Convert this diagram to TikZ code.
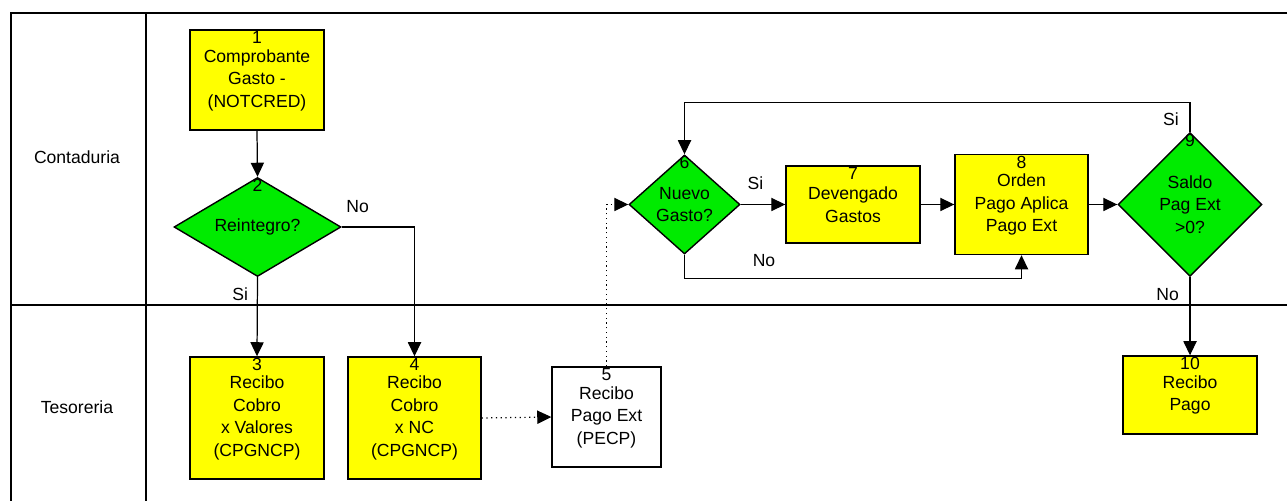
\documentclass[tikz,border=0pt]{standalone}
\usepackage{fontspec}
\setmainfont{Liberation Sans}
\usetikzlibrary{shapes.geometric,arrows.meta}

\definecolor{amarillo}{RGB}{255,255,0}
\definecolor{verde}{RGB}{0,235,0}

\tikzset{
  caja/.style={draw, line width=0.8pt, fill=amarillo, minimum width=2.68cm, align=center, inner sep=0pt},
  rombo/.style={diamond, draw, line width=0.8pt, fill=verde, inner sep=0pt},
  flecha/.style={-{Triangle[length=8pt,width=7.5pt]}, line width=0.7pt},
  num/.style={anchor=north, inner sep=1pt},
  txt/.style={align=center, inner sep=0pt},
  lbl/.style={inner sep=1pt}
}

\begin{document}
\begin{tikzpicture}[font=\fontsize{10}{12.8}\selectfont]
\useasboundingbox (0,0) rectangle (25.76,10.02);%画像の大きさ

%%枠と区分線
\draw [line width=0.6pt] (25.74,9.76) -- (0.22,9.76) -- (0.22,0);
\draw [line width=0.6pt] (2.92,9.76) -- (2.92,0);
\draw [line width=0.6pt] (0.22,3.92) -- (25.74,3.92);
\node (contaduria) at (1.54,6.88) {Contaduria};
\node (tesoreria) at (1.54,1.88) {Tesoreria};

%%箱と菱形
\node [caja, minimum height=2.0cm, label={[num]north:1}] (b1) at (5.14,8.42) {Comprobante\\Gasto -\\(NOTCRED)};
\node [rombo, minimum width=3.34cm, minimum height=1.98cm, label={[num]north:2}, label={[txt]center:Reintegro?}] (d2) at (5.15,5.48) {};
\node [caja, minimum height=2.44cm, label={[num]north:3}] (b3) at (5.14,1.66) {Recibo\\Cobro\\x Valores\\(CPGNCP)};
\node [caja, minimum width=2.66cm, minimum height=2.44cm, label={[num]north:4}] (b4) at (8.29,1.66) {Recibo\\Cobro\\x NC\\(CPGNCP)};
\node [caja, fill=white, minimum width=2.18cm, minimum height=2.0cm, label={[num]north:5}] (b5) at (12.13,1.68) {Recibo\\Pago Ext\\(PECP)};
\node [rombo, minimum width=2.22cm, minimum height=1.98cm, label={[num]north:6}, label={[txt]center:Nuevo\\Gasto?}] (d6) at (13.69,5.93) {};
\node [caja, minimum height=1.54cm, label={[num]north:7}] (b7) at (17.06,5.93) {Devengado\\Gastos};
\node [caja, minimum width=2.66cm, minimum height=2.0cm, label={[num]north:8}] (b8) at (20.43,5.93) {Orden\\Pago Aplica\\Pago Ext};
\node [rombo, minimum width=2.88cm, minimum height=2.88cm, label={[num]north:9}, label={[txt]center:Saldo\\Pag Ext\\>0?}] (d9) at (23.8,5.93) {};
\node [caja, minimum height=1.56cm, label={[num]north:10}] (b10) at (23.8,2.12) {Recibo\\Pago};

%%矢印
\draw [flecha] (b1.south) -- (d2.north);
\draw [flecha] (d2.south) -- node[lbl, pos=0.22, left=4pt] {Si} (b3.north);
\draw [flecha] (d2.east) -| node[lbl, pos=0.11, above=7pt] {No} (b4.north);
\draw [flecha, dotted] (b4.east) -- (b5.west);
\draw [flecha, dotted] (b5.north) |- (d6.west);
\draw [flecha] (d6.east) -- node[lbl, pos=0.33, above=7pt] {Si} (b7.west);
\draw [flecha] (b7.east) -- (b8.west);
\draw [flecha] (b8.east) -- (d9.west);
\draw [flecha] (d9.south) -- node[lbl, pos=0.22, left=5pt] {No} (b10.north);
\draw [flecha] (d9.north) -- node[lbl, pos=0.45, left=5pt] {Si} ++(0,0.58) -| (d6.north);
   %9から6へ戻る線
\draw [flecha] (d6.south) -- ++(0,-0.48) -| node[lbl, pos=0.118, above=5.5pt] {No} (b8.south);
   %6から8への迂回線
\end{tikzpicture}
\end{document}
